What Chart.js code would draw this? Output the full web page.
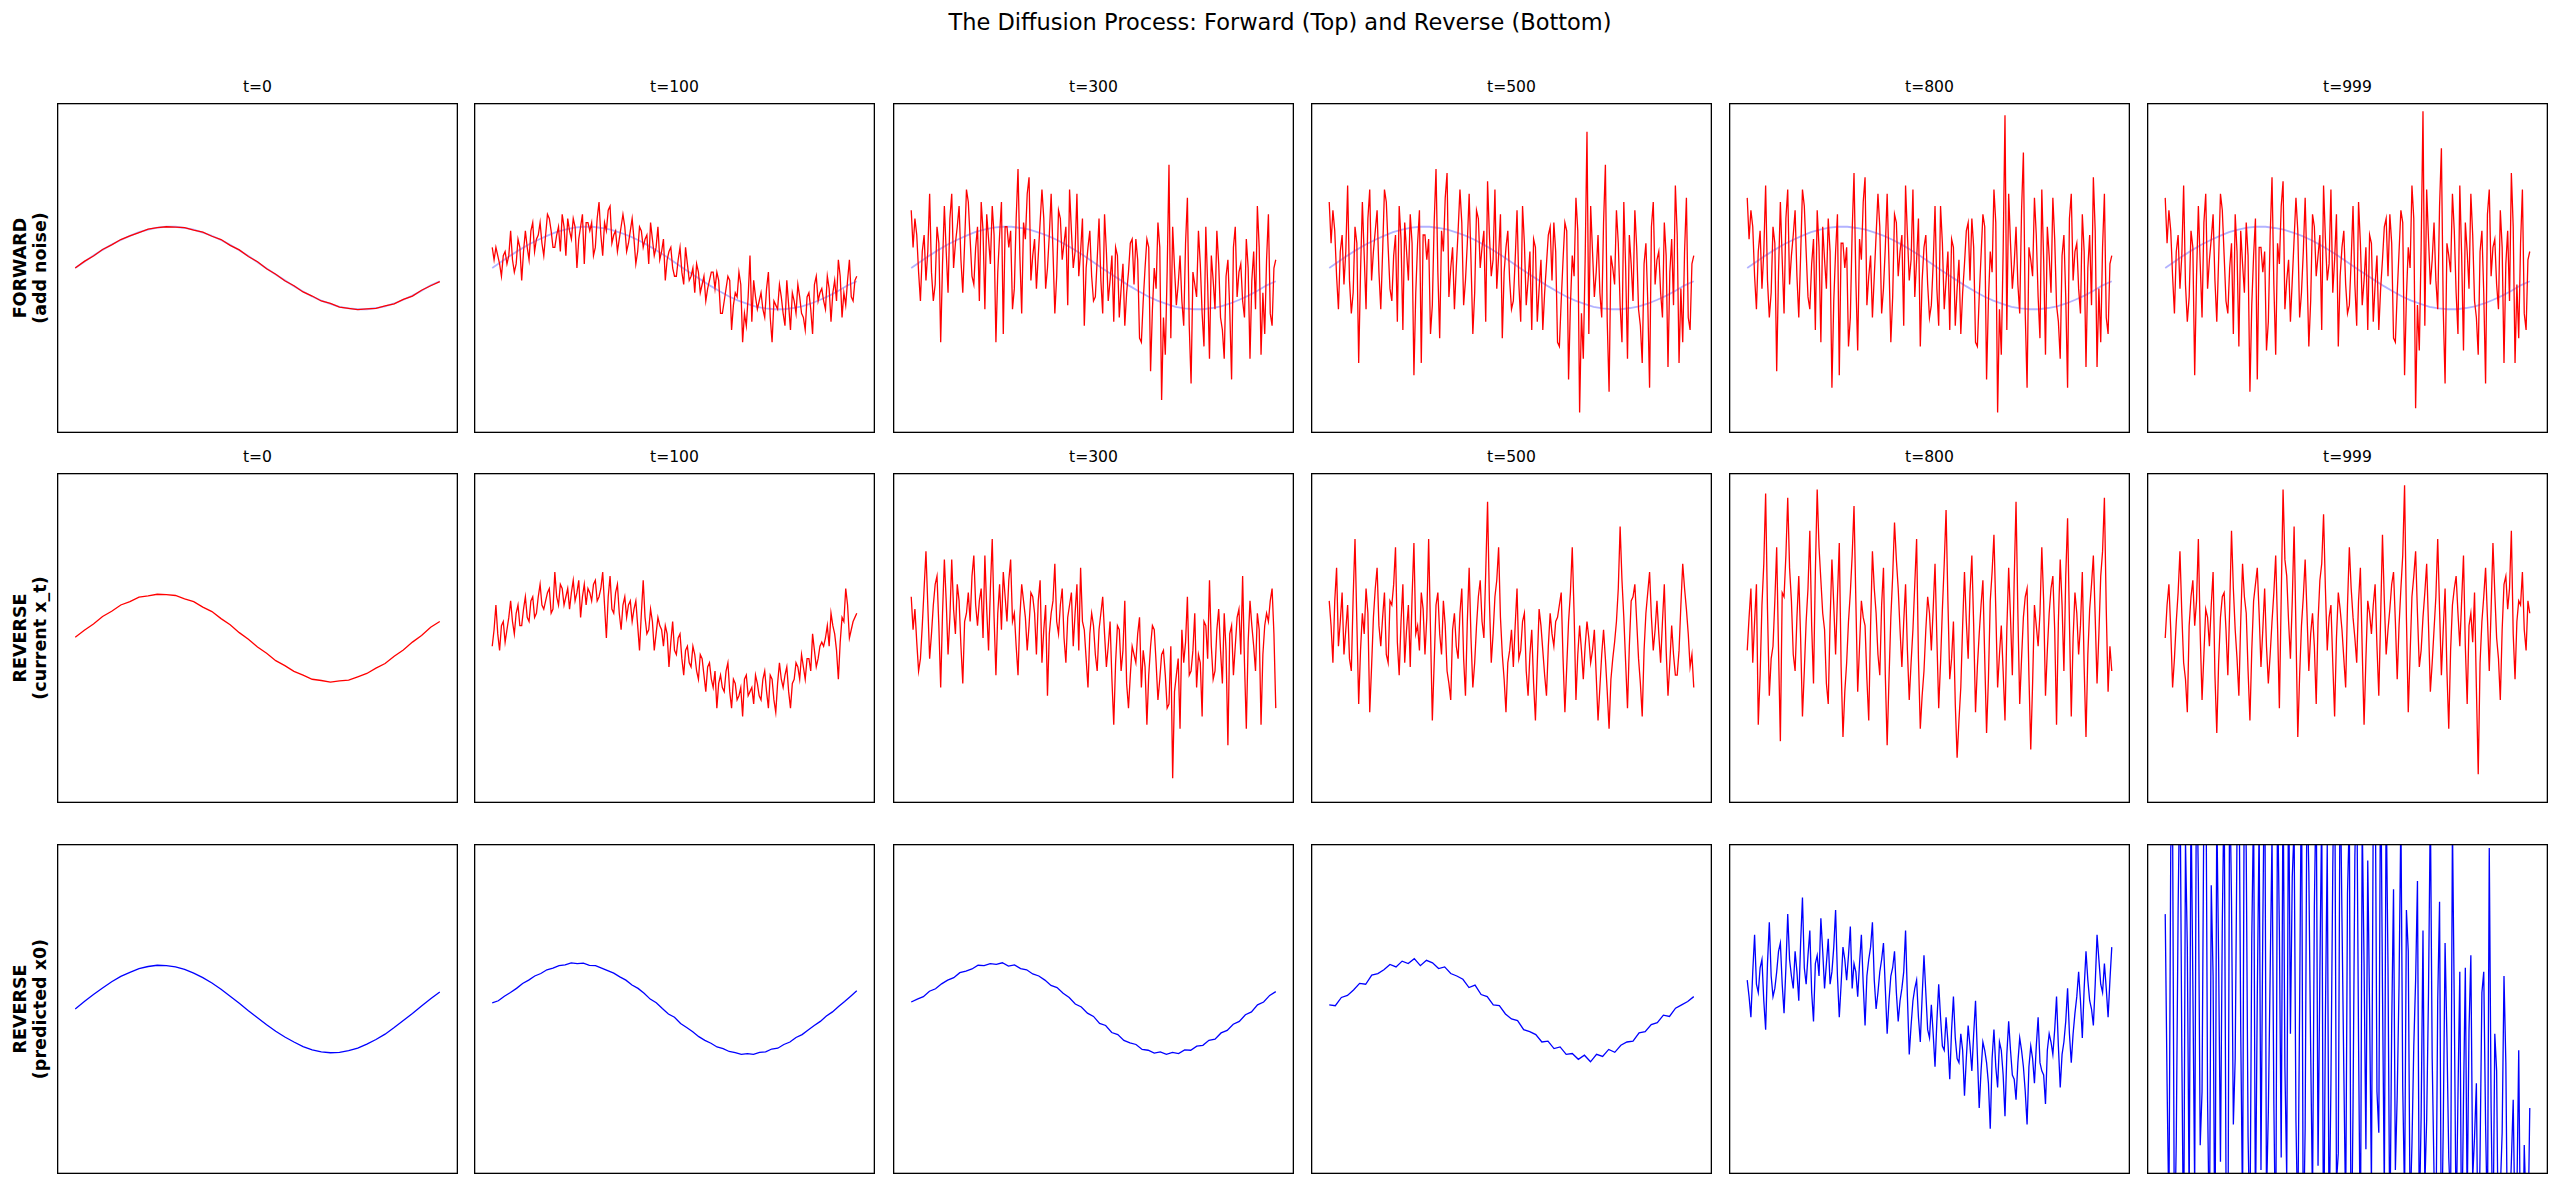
<!DOCTYPE html>
<html lang="en">
<head>
  <meta charset="UTF-8">
  <title>The Diffusion Process</title>
  <script src="https://cdn.jsdelivr.net/npm/chart.js"></script>
  <style>
    body {
        margin: 0;
        background: #fff;
        font-family: 'DejaVu Sans', sans-serif;
        color: #000;
    }
    #fig {
        position: relative;
        width: 2560px;
        height: 1186px;
        overflow: hidden;
    }
    .suptitle {
        position: absolute;
        left: 0;
        top: 8px;
        width: 2560px;
        text-align: center;
        font-size: 22.5px;
        line-height: 28px;
    }
    .ptitle {
        position: absolute;
        width: 401px;
        text-align: center;
        font-size: 15.6px;
        line-height: 20px;
    }
    .rowlabel {
        position: absolute;
        font-weight: bold;
        font-size: 17.5px;
        line-height: 20px;
        text-align: center;
        white-space: nowrap;
        transform: translate(-50%, -50%) rotate(-90deg);
    }
    canvas {
        position: absolute;
    }
  </style>
</head>
<body>
  <div id="fig">
    <div class="suptitle">The Diffusion Process: Forward (Top) and Reverse (Bottom)</div>
  </div>

  <script>
    const timesteps = ['t=0', 't=100', 't=300', 't=500', 't=800', 't=999'];
    const rowLabels = [['FORWARD', '(add noise)'], ['REVERSE', '(current x_t)'], ['REVERSE', '(predicted x0)']];

    // clean signal x0 (faint blue behind the forward row)
    const x0 = [0,0.15,0.30,0.44,0.57,0.68,0.78,0.87,0.93,0.98,1.0,1.0,0.97,0.93,0.86,0.78,0.68,0.56,0.43,0.29,0.14,-0.01,-0.16,-0.30,-0.44,-0.57,-0.69,-0.79,-0.87,-0.94,-0.98,-1.0,-1.0,-0.97,-0.93,-0.86,-0.77,-0.67,-0.55,-0.42,-0.32];

    // forward row (x_t)
    const fwd0 = [0,0.16,0.29,0.45,0.56,0.69,0.78,0.86,0.94,0.98,1.0,0.99,0.98,0.92,0.87,0.77,0.69,0.55,0.44,0.28,0.15,-0.02,-0.15,-0.31,-0.43,-0.58,-0.68,-0.80,-0.86,-0.95,-0.98,-1.01,-0.99,-0.98,-0.92,-0.87,-0.76,-0.68,-0.54,-0.43,-0.33];
    const fwd100 = [0.5,0.2,0.5,0.3,0.1,-0.2,0.3,0.4,0.1,0.3,0.9,0.2,-0.1,0.1,0.7,0.5,-0.3,0.4,0.9,0.5,
      0.2,0.9,1.1,0.4,0.7,0.8,1.1,0.6,0.3,0.8,1.3,1.2,0.9,0.5,0.5,0.8,1.0,0.4,1.3,1.0,
      0.3,1.2,0.9,0.7,1.2,1.0,0.0,0.7,1.0,1.3,0.1,1.1,1.1,0.9,1.1,0.3,0.5,1.2,1.6,0.8,
      0.3,1.1,0.9,1.4,1.5,0.6,0.8,0.9,0.4,0.7,1.0,1.3,1.0,0.4,0.6,0.9,1.2,0.7,0.1,0.4,
      1.0,0.9,0.5,0.7,0.8,0.1,1.1,0.7,0.3,0.5,1.0,0.2,0.4,0.7,-0.3,0.2,0.4,0.5,0.0,-0.2,
      -0.2,0.2,0.5,-0.1,-0.4,0.5,0.1,-0.3,-0.2,0.0,-0.6,0.1,-0.1,-0.6,-0.4,-0.2,-0.8,-0.5,-0.3,-0.1,
      -0.1,-0.5,-0.1,-0.3,-1.1,-1.1,-0.8,-0.5,-0.2,-0.3,-1.5,-0.9,-0.6,-0.7,-0.1,-0.4,-1.8,-1.1,-1.4,-0.7,
      0.3,-1.3,-0.3,-0.7,-1.0,-0.8,-0.6,-1.0,-1.2,-0.5,-0.1,-1.2,-1.8,-0.8,-0.9,-1.0,-0.4,-0.7,-1.1,-1.4,
      -0.3,-0.9,-1.5,-0.6,-0.8,-1.1,-0.4,-0.7,-1.1,-1.2,-1.5,-0.7,-0.6,-1.0,-1.6,-0.4,-0.2,-0.8,-0.6,-0.5,
      -0.8,-1.0,-0.2,-0.5,-1.3,-0.6,-0.3,-0.8,0.2,-0.2,-1.2,-0.6,-0.9,-0.3,0.2,-0.7,-0.8,-0.3,-0.2];
    const fwd300 = [1.4,0.5,1.2,0.8,-0.1,-0.8,0.4,0.8,-0.3,0.4,1.8,-0.1,-0.8,-0.4,1.0,0.6,-1.8,0.1,1.5,0.4,
      -0.6,1.2,1.8,0.0,0.6,1.0,1.5,0.2,-0.6,0.6,1.9,1.6,0.7,-0.2,-0.4,0.5,1.0,-0.8,1.6,0.9,
      -1.0,1.3,0.7,0.1,1.5,0.8,-1.8,-0.1,0.8,1.6,-1.6,1.0,1.0,0.5,0.9,-1.0,-0.5,1.2,2.4,0.3,
      -1.1,1.1,0.7,1.8,2.2,-0.3,0.3,0.7,-0.5,0.3,1.1,1.9,1.2,-0.5,0.0,0.8,1.8,0.4,-1.1,-0.2,
      1.4,1.2,0.2,0.6,1.0,-0.9,1.9,0.9,0.0,0.4,1.8,-0.2,0.4,1.2,-1.4,0.0,0.5,0.9,-0.2,-0.8,
      -0.7,0.2,1.2,-0.3,-1.1,1.3,0.4,-0.8,-0.3,0.3,-1.3,0.5,0.3,-1.2,-0.5,0.1,-1.4,-0.6,-0.1,0.6,
      0.7,-0.4,0.7,0.2,-1.7,-1.8,-0.8,0.0,0.7,0.5,-2.5,-1.0,0.0,-0.5,1.1,0.5,-3.2,-1.2,-2.1,-0.1,
      2.5,-1.7,1.0,0.0,-0.9,-0.4,0.3,-0.8,-1.4,0.6,1.7,-1.4,-2.8,-0.1,-0.4,-0.7,0.9,0.1,-1.1,-1.9,
      1.0,-0.4,-2.2,0.3,-0.3,-1.0,0.9,0.1,-1.2,-1.5,-2.2,-0.2,0.2,-1.0,-2.7,0.5,1.0,-0.7,-0.1,0.1,
      -0.8,-1.2,0.7,0.0,-2.2,-0.3,0.4,-1.0,1.5,0.5,-2.1,-0.6,-1.6,0.2,1.3,-1.1,-1.4,0.0,0.2];
    const fwd500 = [1.6,0.6,1.4,0.9,-0.2,-1.0,0.4,0.8,-0.4,0.4,2.0,-0.3,-1.1,-0.6,1.0,0.6,-2.3,-0.1,1.6,0.3,
      -1.0,1.2,1.9,-0.3,0.4,0.9,1.4,-0.1,-1.0,0.4,1.9,1.6,0.5,-0.5,-0.8,0.3,0.8,-1.3,1.5,0.7,
      -1.5,1.1,0.4,-0.3,1.3,0.6,-2.6,-0.6,0.6,1.4,-2.3,0.8,0.8,0.2,0.7,-1.6,-0.9,1.1,2.4,-0.1,
      -1.7,0.9,0.4,1.7,2.3,-0.7,0.0,0.5,-1.0,0.0,0.9,1.9,1.1,-0.9,-0.3,0.6,1.8,0.2,-1.6,-0.6,
      1.4,1.2,0.0,0.5,0.9,-1.3,2.1,0.8,-0.2,0.2,1.9,-0.5,0.3,1.3,-1.7,-0.1,0.5,0.9,-0.3,-1.0,
      -0.8,0.2,1.4,-0.4,-1.3,1.5,0.6,-0.9,-0.3,0.4,-1.5,0.7,0.5,-1.3,-0.5,0.2,-1.5,-0.6,0.1,0.8,
      1.0,-0.3,1.1,0.4,-1.8,-1.9,-0.8,0.2,1.1,0.9,-2.7,-0.9,0.3,-0.2,1.7,0.9,-3.5,-1.1,-2.2,0.2,
      3.3,-1.6,1.5,0.4,-0.7,-0.1,0.8,-0.6,-1.2,1.1,2.5,-1.3,-3.0,0.3,0.0,-0.4,1.4,0.6,-0.9,-1.8,
      1.6,0.0,-2.2,0.8,0.1,-0.8,1.4,0.5,-1.0,-1.4,-2.3,0.1,0.6,-0.8,-2.9,1.0,1.6,-0.4,0.2,0.4,
      -0.6,-1.2,1.1,0.3,-2.4,-0.1,0.7,-0.9,2.0,0.8,-2.3,-0.5,-1.8,0.4,1.7,-1.2,-1.5,0.1,0.3];
    const fwd800 = [1.7,0.7,1.4,1.0,-0.2,-1.0,0.4,0.9,-0.5,0.4,2.0,-0.3,-1.2,-0.6,1.0,0.6,-2.5,-0.1,1.6,0.2,
      -1.1,1.2,1.9,-0.4,0.3,0.8,1.4,-0.2,-1.2,0.3,1.9,1.5,0.4,-0.7,-1.0,0.1,0.7,-1.5,1.4,0.5,
      -1.8,1.0,0.2,-0.5,1.2,0.4,-2.9,-0.8,0.4,1.3,-2.6,0.6,0.6,0.0,0.5,-1.9,-1.2,0.9,2.3,-0.3,
      -2.0,0.7,0.2,1.6,2.2,-0.9,-0.2,0.3,-1.2,-0.2,0.8,1.8,1.0,-1.1,-0.5,0.5,1.8,0.1,-1.8,-0.7,
      1.3,1.1,-0.2,0.4,0.8,-1.4,2.0,0.8,-0.3,0.2,1.9,-0.7,0.2,1.2,-1.9,-0.3,0.5,0.8,-0.4,-1.2,
      -0.9,0.1,1.5,-0.5,-1.4,1.5,0.6,-1.0,-0.3,0.4,-1.5,0.7,0.5,-1.4,-0.5,0.2,-1.6,-0.6,0.1,0.9,
      1.1,-0.3,1.2,0.5,-1.8,-1.9,-0.7,0.3,1.3,1.0,-2.7,-0.8,0.4,-0.1,1.9,1.1,-3.5,-1.0,-2.1,0.4,
      3.7,-1.5,1.8,0.6,-0.5,0.1,1.0,-0.4,-1.1,1.4,2.8,-1.1,-2.9,0.5,0.2,-0.2,1.7,0.8,-0.7,-1.7,
      1.9,0.2,-2.1,1.0,0.3,-0.6,1.7,0.7,-0.9,-1.3,-2.2,0.3,0.8,-0.7,-2.9,1.2,1.8,-0.3,0.4,0.6,
      -0.5,-1.1,1.3,0.4,-2.4,0.0,0.8,-0.9,2.2,0.9,-2.4,-0.5,-1.8,0.5,1.8,-1.2,-1.6,0.1,0.3];
    const fwd999 = [1.7,0.6,1.4,0.9,-0.2,-1.1,0.4,0.8,-0.5,0.3,2.0,-0.4,-1.3,-0.7,0.9,0.5,-2.6,-0.2,1.5,0.1,
      -1.2,1.1,1.8,-0.5,0.2,0.7,1.3,-0.3,-1.3,0.2,1.8,1.4,0.3,-0.8,-1.1,0.0,0.6,-1.6,1.3,0.4,
      -1.9,0.9,0.1,-0.6,1.1,0.3,-3.0,-0.9,0.3,1.2,-2.7,0.5,0.5,-0.1,0.4,-2.0,-1.3,0.8,2.2,-0.4,
      -2.1,0.6,0.1,1.5,2.1,-1.0,-0.3,0.2,-1.3,-0.3,0.7,1.7,0.9,-1.2,-0.6,0.4,1.7,0.0,-1.9,-0.8,
      1.3,1.0,-0.2,0.3,0.8,-1.5,2.0,0.7,-0.3,0.1,1.9,-0.6,0.2,1.3,-1.9,-0.2,0.5,0.9,-0.4,-1.1,
      -0.9,0.2,1.5,-0.4,-1.4,1.6,0.6,-0.9,-0.3,0.5,-1.5,0.8,0.6,-1.3,-0.4,0.3,-1.5,-0.5,0.2,1.0,
      1.2,-0.2,1.3,0.6,-1.7,-1.8,-0.6,0.4,1.4,1.1,-2.6,-0.7,0.5,0.0,2.0,1.2,-3.4,-0.9,-2.0,0.5,
      3.8,-1.4,1.9,0.7,-0.4,0.2,1.1,-0.3,-1.0,1.5,2.9,-1.0,-2.8,0.6,0.3,-0.1,1.8,0.9,-0.6,-1.6,
      2.0,0.3,-2.0,1.1,0.4,-0.5,1.8,0.8,-0.8,-1.2,-2.1,0.4,0.9,-0.6,-2.8,1.3,1.9,-0.2,0.5,0.7,
      -0.4,-1.0,1.4,0.5,-2.3,0.1,0.9,-0.8,2.3,1.0,-2.3,-0.4,-1.7,0.6,1.9,-1.1,-1.5,0.2,0.4];

    // reverse row (current x_t)
    const rev0 = [0.02,0.19,0.34,0.52,0.65,0.80,0.88,0.99,1.02,1.06,1.05,1.03,0.95,0.88,0.75,0.64,0.47,0.32,0.13,-0.03,-0.22,-0.37,-0.55,-0.67,-0.81,-0.90,-1.00,-1.03,-1.07,-1.04,-1.02,-0.94,-0.86,-0.73,-0.62,-0.44,-0.29,-0.10,0.06,0.26,0.40];
    const rev100 = [-0.2,0.2,0.8,0.1,-0.3,0.3,0.4,-0.1,0.2,0.5,0.9,0.4,0.1,0.6,0.8,0.3,0.3,0.7,1.0,0.5,
      0.4,0.9,1.0,0.5,0.6,1.0,1.3,0.8,0.7,0.9,1.1,1.2,0.6,0.7,1.6,1.0,0.8,1.3,1.2,0.8,
      1.0,1.2,0.7,1.1,1.4,0.9,1.1,1.4,0.5,1.0,1.3,0.8,1.2,1.1,0.9,1.3,1.4,0.9,1.0,1.2,
      1.6,0.8,0.0,1.0,1.5,0.7,0.6,1.1,1.3,0.6,0.2,0.8,1.0,0.5,0.8,0.9,0.4,0.7,0.9,0.3,
      -0.3,0.6,1.4,0.5,0.1,0.2,0.7,0.4,-0.3,0.1,0.5,0.3,0.2,-0.2,0.3,0.1,-0.7,-0.1,0.4,-0.3,
      -0.4,0.0,0.1,-0.5,-0.9,-0.3,-0.2,-0.6,-0.7,-0.2,-0.4,-0.8,-1.0,-0.4,-0.5,-0.9,-1.3,-0.7,-0.6,-1.0,
      -1.2,-0.8,-1.7,-1.1,-0.9,-1.2,-1.3,-0.8,-0.6,-1.3,-1.7,-1.0,-1.1,-1.5,-1.4,-1.2,-1.9,-1.0,-0.9,-1.4,
      -1.3,-1.2,-1.6,-0.9,-1.1,-1.4,-1.5,-1.0,-0.8,-1.3,-1.7,-0.9,-1.0,-1.5,-1.8,-1.1,-0.6,-1.0,-1.2,-0.9,
      -0.7,-1.3,-1.7,-1.1,-1.0,-0.6,-0.7,-1.0,-0.4,-0.7,-1.0,-0.5,-0.5,-0.8,0.1,-0.3,-0.7,-0.5,-0.2,-0.1,
      -0.2,0.0,0.3,-0.2,0.6,0.3,0.1,-0.3,-1.0,-0.1,0.5,0.4,1.2,0.8,0.0,0.2,0.4,0.5,0.6];
    const rev300 = [1.0,0.2,0.7,-0.1,-0.8,-0.5,0.3,1.2,2.1,0.8,-0.5,0.1,0.8,1.3,1.5,0.3,-1.2,0.6,1.9,0.9,
      -0.4,0.5,1.9,0.7,0.1,1.3,0.9,-0.2,-1.1,0.4,0.6,1.1,0.4,1.5,2.0,0.8,0.3,0.9,1.2,0.0,
      2.0,0.7,-0.3,1.2,2.4,0.5,-0.9,0.6,1.3,0.2,1.6,1.0,0.4,1.4,1.9,0.4,0.6,-0.2,-0.9,0.5,
      1.3,0.9,0.5,-0.3,0.3,1.1,1.0,0.6,-0.4,0.9,1.4,-0.6,0.2,0.8,-1.4,0.1,0.6,0.9,1.8,0.4,
      0.1,0.8,1.2,0.0,-0.6,0.5,0.8,1.1,-0.2,0.6,1.3,-0.3,1.7,0.4,0.2,-0.5,-1.2,0.1,0.6,0.3,
      -0.4,-0.8,0.2,0.6,1.0,0.1,-0.7,-0.2,0.4,-1.0,-2.1,-0.6,0.3,0.2,-0.8,-0.3,0.9,-1.1,-1.7,-0.9,
      -0.2,-0.4,-0.6,0.1,0.5,-1.2,-0.3,-0.7,-2.1,-0.9,-0.2,0.3,0.2,-0.6,-1.5,-1.0,-0.4,-0.3,-0.9,-1.7,
      -1.6,-0.2,-3.4,-1.3,-0.9,-0.5,-2.2,0.2,-0.6,-0.1,1.0,-0.9,-0.8,-0.3,0.6,-1.2,-0.4,-0.6,-1.9,0.4,
      0.3,-0.5,1.4,-0.2,-1.0,-0.8,0.2,0.7,-0.3,-1.1,0.6,-0.3,-2.6,0.1,0.3,-0.9,-0.2,0.5,0.7,-0.4,
      1.5,-0.6,-2.2,-0.1,0.9,0.3,-0.2,-0.8,0.6,0.2,-2.1,-0.4,0.3,0.6,0.4,0.9,1.2,0.1,-1.7];
    const rev500 = [0.9,0.3,-0.6,0.9,1.7,-0.2,0.4,1.1,-0.4,0.2,0.8,-0.5,-0.8,1.0,2.4,0.4,-1.6,-0.3,0.6,0.1,
      1.2,0.6,-1.8,-0.7,0.5,1.2,1.7,0.3,-0.2,0.5,1.1,-0.4,-0.6,0.9,0.8,1.3,2.2,-0.1,-0.9,0.4,
      1.3,-0.6,0.2,0.8,-0.7,1.0,2.3,0.1,0.3,-0.3,1.1,0.7,-0.4,0.5,2.4,0.2,-2.0,-0.6,0.8,1.1,
      0.1,-0.4,0.9,0.3,-0.8,-1.1,-1.5,0.2,0.6,-0.2,-0.5,0.6,1.2,-0.5,-1.4,0.4,1.7,0.0,-1.2,-0.6,
      0.3,1.0,1.4,0.4,0.0,1.6,3.3,0.9,-0.6,0.1,1.0,1.4,2.2,0.5,-0.4,-1.0,-1.8,-0.6,-0.3,0.2,
      -0.7,0.3,1.2,-0.5,-0.3,0.4,0.6,-0.8,-1.4,-0.4,0.2,-1.1,-2.0,-0.6,0.7,0.3,-0.3,-0.9,-1.4,-0.2,
      0.6,0.1,-0.2,0.4,0.5,0.8,1.1,-0.5,-1.8,-0.7,0.4,1.1,2.2,0.6,-1.5,-0.4,0.3,-0.3,-1.0,-0.2,
      0.4,0.0,-0.6,-0.3,0.2,-0.9,-2.0,-1.2,-0.4,0.2,-0.5,-1.3,-2.2,-1.0,-0.5,-0.1,0.4,1.2,2.7,1.4,
      0.5,-0.6,-1.7,-0.2,0.9,1.0,1.3,0.4,-0.5,-1.1,-1.9,-0.3,0.6,1.1,1.6,0.5,-0.3,0.2,0.9,0.1,
      -0.6,0.4,1.3,-0.3,-1.4,-0.6,0.3,-0.4,-0.9,-0.9,-0.3,0.8,1.8,1.2,0.7,0.1,-0.7,-0.4,-1.2];
    const rev800 = [-0.3,0.5,1.2,-0.6,0.4,1.3,-2.1,-0.9,0.8,1.8,3.5,0.7,-1.4,-0.5,-0.2,0.9,2.2,-0.3,-2.5,1.1,
      1.0,2.0,3.4,1.7,0.9,-0.4,-0.8,0.5,1.5,0.0,-1.9,-0.8,0.4,1.2,2.6,0.3,-1.1,1.6,3.6,2.2,
      1.4,0.6,0.2,-1.1,-1.6,0.4,1.9,0.8,-0.4,1.0,2.3,-0.7,-2.4,-1.3,-0.6,0.4,1.1,2.0,3.2,0.9,
      -1.3,-0.2,0.9,0.5,0.3,-1.0,-2.0,0.3,2.1,1.2,0.6,-0.4,-0.9,0.8,1.7,-0.9,-2.6,-1.0,0.5,1.5,
      2.8,1.9,1.2,0.2,-0.7,0.4,1.3,-0.3,-1.5,-0.6,0.2,1.3,2.4,-0.5,-2.2,-1.4,-0.8,0.2,1.0,0.6,
      -0.3,0.7,1.8,0.0,-1.7,-0.6,0.7,1.8,3.1,0.9,-1.0,-0.5,0.4,-1.6,-2.9,-2.0,-1.2,0.3,1.6,0.4,
      -0.5,1.1,2.0,0.3,-1.8,-0.7,0.1,0.8,1.4,-0.5,-2.3,-1.0,0.9,1.6,2.5,0.7,-1.2,-0.4,0.3,-0.8,
      -2.0,0.2,1.7,0.5,-0.9,1.4,3.3,0.6,-1.6,-0.5,0.5,1.0,1.2,-0.9,-2.7,-1.1,0.8,0.3,-0.2,0.6,
      2.2,0.9,-1.4,-0.3,0.6,1.2,1.5,0.2,-2.1,0.4,1.9,0.8,-0.8,1.5,2.9,0.4,-1.9,0.0,1.1,0.6,
      -0.4,0.3,1.6,-0.7,-2.4,-0.4,0.7,1.3,2.0,0.5,-1.1,0.1,1.5,2.1,3.4,0.7,-1.3,-0.2,-0.8];
    const rev999 = [0.0,0.8,1.3,0.2,-1.2,-0.5,0.4,1.1,2.1,0.6,-0.6,-1.0,-1.8,0.3,1.0,1.4,0.3,0.9,2.4,0.1,
      -1.5,-0.4,0.7,0.5,-0.2,0.8,1.6,-0.9,-2.3,-0.6,0.5,1.0,1.1,0.2,-0.9,0.7,2.6,1.2,0.2,-0.5,
      -1.4,0.4,1.8,1.0,0.6,-0.8,-2.0,-0.3,0.9,1.3,1.7,0.6,-0.7,0.2,1.2,-0.2,-1.1,-0.4,0.4,1.1,
      2.0,0.3,-1.7,1.0,3.6,1.9,1.5,0.4,-0.5,0.9,2.7,0.2,-2.4,-0.9,0.3,1.0,1.9,0.6,-0.8,0.1,
      0.6,-0.2,-1.6,0.4,1.4,1.8,3.0,1.2,-0.3,0.5,0.8,-0.6,-1.9,0.0,1.1,0.7,0.2,-0.5,-1.2,0.8,
      2.2,1.2,0.5,0.0,-0.6,0.9,1.7,-0.3,-2.1,-0.5,0.9,0.6,0.1,0.8,1.3,-0.2,-1.4,0.5,2.5,0.9,
      -0.4,0.2,0.7,1.3,1.6,0.4,-1.0,0.3,1.2,2.0,3.7,0.5,-1.8,-0.4,1.0,1.5,2.1,0.6,-0.7,-0.3,
      0.5,1.1,1.8,0.3,-1.3,-0.6,0.2,1.0,2.4,0.7,-0.9,0.2,1.2,-0.8,-2.2,-0.3,0.8,1.2,1.5,0.6,
      -0.2,0.9,2.0,-0.2,-1.6,0.3,0.6,-0.1,1.1,-1.2,-3.3,-0.6,0.4,1.0,1.7,0.5,-0.8,0.7,2.3,1.1,
      0.0,-0.5,-1.5,0.2,1.3,1.5,0.7,1.2,2.6,0.1,-1.0,0.4,0.9,0.8,1.6,0.2,-0.3,0.9,0.6];

    // reverse row (predicted x0)
    const pred0 = [0,0.18,0.35,0.51,0.66,0.79,0.89,0.98,1.03,1.06,1.05,1.02,0.96,0.87,0.76,0.63,0.48,0.31,0.14,-0.04,-0.21,-0.38,-0.54,-0.68,-0.80,-0.91,-0.99,-1.04,-1.06,-1.05,-1.01,-0.95,-0.85,-0.74,-0.61,-0.45,-0.28,-0.11,0.07,0.25,0.41];
    const pred100 = [0.15,0.20,0.31,0.40,0.50,0.62,0.70,0.80,0.86,0.95,0.99,1.05,1.07,1.12,1.10,1.11,1.06,1.05,0.99,0.93,0.87,0.78,0.70,0.58,0.50,0.38,0.24,0.15,0.01,-0.12,-0.20,-0.35,-0.45,-0.55,-0.67,-0.76,-0.83,-0.92,-0.96,-1.03,-1.06,-1.10,-1.08,-1.10,-1.05,-1.04,-0.97,-0.95,-0.86,-0.80,-0.69,-0.62,-0.51,-0.40,-0.30,-0.17,-0.07,0.06,0.18,0.31,0.44];
    const pred300 = [0.17,0.24,0.30,0.43,0.49,0.61,0.70,0.76,0.88,0.92,0.97,1.06,1.05,1.10,1.08,1.12,1.04,1.07,0.98,0.95,0.85,0.80,0.70,0.57,0.52,0.38,0.28,0.12,0.05,-0.10,-0.18,-0.35,-0.40,-0.57,-0.62,-0.76,-0.82,-0.86,-0.98,-1.00,-1.07,-1.04,-1.10,-1.05,-1.08,-0.99,-1.00,-0.90,-0.88,-0.76,-0.73,-0.58,-0.52,-0.37,-0.30,-0.14,-0.07,0.10,0.17,0.33,0.42];
    const pred500 = [0.10,0.08,0.28,0.33,0.46,0.62,0.60,0.82,0.86,0.95,1.08,1.02,1.16,1.10,1.22,1.05,1.18,1.12,0.98,1.02,0.86,0.80,0.72,0.52,0.58,0.35,0.30,0.10,0.08,-0.12,-0.24,-0.28,-0.50,-0.55,-0.62,-0.80,-0.78,-0.96,-0.92,-1.10,-1.08,-1.22,-1.12,-1.28,-1.10,-1.15,-0.98,-1.05,-0.88,-0.80,-0.78,-0.58,-0.55,-0.38,-0.33,-0.15,-0.18,0.02,0.10,0.18,0.30];
    const pred800 = [0.7,0.3,-0.2,0.9,1.8,0.6,0.4,1.0,1.2,0.2,-0.5,1.1,2.1,0.8,0.3,0.5,0.9,1.4,1.6,0.6,
      -0.1,1.0,2.3,1.2,0.8,0.5,1.4,0.9,0.2,1.6,2.7,1.0,0.6,1.3,1.9,0.4,-0.3,1.1,1.3,0.8,
      2.2,1.4,0.5,1.1,1.7,0.6,0.9,1.5,2.4,0.8,-0.2,0.6,1.5,1.2,0.7,1.3,2.0,0.5,1.1,0.9,
      0.3,1.1,1.8,0.6,-0.4,0.8,1.2,1.5,2.1,0.7,0.0,0.4,0.9,1.2,1.6,0.5,-0.6,0.2,0.8,1.0,
      1.4,0.4,-0.3,0.2,0.5,0.9,1.9,0.3,-1.1,-0.4,0.2,0.5,0.7,-0.2,-0.8,0.3,1.3,0.4,-0.5,-0.7,
      0.1,-0.6,-1.4,-0.3,0.6,-0.2,-0.9,-1.0,-0.2,-0.8,-1.7,-0.5,0.3,-0.7,-1.2,-1.3,-0.6,-1.0,-2.1,-1.2,
      -0.4,-0.9,-1.5,-0.6,0.2,-1.1,-2.4,-1.5,-0.8,-1.0,-1.3,-1.8,-2.9,-1.2,-0.5,-1.4,-1.9,-0.8,-1.0,-1.6,
      -2.6,-1.1,-0.3,-1.0,-1.6,-1.7,-2.2,-1.3,-0.7,-1.0,-1.4,-2.0,-2.8,-1.4,-0.9,-1.2,-1.8,-0.9,-0.2,-1.3,
      -1.5,-1.6,-2.3,-1.0,-0.6,-0.8,-1.1,-0.5,0.3,-0.9,-1.9,-1.1,-0.8,-0.3,0.5,-0.6,-1.3,-0.6,-0.1,0.3,
      0.9,0.2,-0.7,0.5,1.4,0.7,0.2,0.0,-0.4,0.6,1.8,1.2,0.6,0.4,1.1,0.5,-0.2,0.7,1.5];
    const pred999 = [2.3,-1.8,-5.1,3.9,4.6,-6.0,-3.2,2.4,6.0,-0.9,-6.3,4.1,1.5,-4.8,5.2,0.6,-4.4,6.5,3.1,-3.3,
      -2.0,5.1,7.1,-2.2,-5.8,3.0,0.8,-6.4,4.9,1.2,-3.7,2.1,5.5,-4.0,-6.8,5.9,2.6,-2.8,-1.2,4.3,
      6.4,-0.5,-4.9,6.6,3.8,-3.1,-5.6,1.7,5.0,-5.2,0.3,4.5,-3.9,2.0,6.7,-4.6,-2.5,0.9,4.2,-2.3,
      -6.1,5.4,1.9,-3.6,5.8,-1.4,-4.1,6.0,-0.6,3.2,4.4,-2.7,-5.3,0.1,6.2,-5.9,-2.9,5.7,3.3,-1.0,
      -4.7,2.5,5.6,-3.8,0.9,4.9,-6.5,-0.2,4.0,-5.5,-1.8,3.4,6.9,-4.2,-3.5,6.1,2.2,-1.5,-5.0,2.8,
      4.7,-6.7,-2.4,3.7,5.9,-0.8,-6.0,4.6,1.1,-3.4,3.6,0.0,-4.3,5.0,6.3,-2.0,-3.0,6.4,0.5,-4.5,
      5.3,1.0,-5.7,-0.4,2.9,-3.9,-2.1,0.6,4.8,-1.9,-4.6,2.4,1.4,-5.0,-3.3,-0.9,0.7,3.1,-5.2,-2.6,
      1.9,-4.3,-2.7,0.4,5.0,-1.2,-4.0,-5.7,0.2,2.6,-6.1,-2.9,1.6,-0.7,-3.6,-4.8,4.5,0.1,-5.4,-2.1,
      0.9,-6.0,-2.2,1.0,-4.8,-0.5,1.3,-4.1,-3.1,-1.8,-6.6,-3.5,0.4,0.9,-2.8,-5.3,3.9,-2.4,-5.9,-0.6,
      -1.5,-6.4,-4.4,-3.0,0.8,-1.3,-6.2,-5.1,-3.7,-2.2,-5.5,-4.5,-1.0,-6.0,-6.8,-3.3,-4.9,-5.6,-2.4];

    const forwardRow = [fwd0, fwd100, fwd300, fwd500, fwd800, fwd999];
    const currentRow = [rev0, rev100, rev300, rev500, rev800, rev999];
    const predRow = [pred0, pred100, pred300, pred500, pred800, pred999];

    // figure geometry (px)
    const colLeft = [57, 474, 893, 1311, 1729, 2147];
    const rowTop = [103, 473, 844];
    const panelW = 401, panelH = 330;

    const fig = document.getElementById('fig');

    // black box round each axes
    const frame = {
      id: 'frame',
      afterDraw(chart) {
        const { ctx, chartArea: a } = chart;
        ctx.save();
        ctx.strokeStyle = '#000';
        ctx.lineWidth = 1.3;
        ctx.strokeRect(a.left + 0.65, a.top + 0.65, a.right - a.left - 1.3, a.bottom - a.top - 1.3);
        ctx.restore();
      }
    };

    function toPoints(arr) {
      return arr.map((v, i) => ({ x: i / (arr.length - 1), y: v }));
    }

    function line(arr, color, width, order) {
      return {
        data: toPoints(arr),
        borderColor: color,
        borderWidth: width,
        pointRadius: 0,
        tension: 0,
        fill: false,
        order: order
      };
    }

    function makePanel(r, c, datasets) {
      const canvas = document.createElement('canvas');
      canvas.width = panelW;
      canvas.height = panelH;
      canvas.style.left = colLeft[c] + 'px';
      canvas.style.top = rowTop[r] + 'px';
      fig.appendChild(canvas);
      new Chart(canvas.getContext('2d'), {
        type: 'line',
        data: { datasets: datasets },
        options: {
          responsive: false,
          animation: false,
          events: [],
          layout: { padding: 0 },
          plugins: { legend: { display: false }, tooltip: { enabled: false } },
          scales: {
            x: { type: 'linear', display: false, min: -0.05, max: 1.05 },
            y: { display: false, min: -4, max: 4 }
          }
        },
        plugins: [frame]
      });
    }

    for (let c = 0; c < 6; c++) {
      // lower order is drawn on top: red over the faint blue x0
      makePanel(0, c, [line(forwardRow[c], '#ff0000', 1.3, 0), line(x0, 'rgba(0, 0, 255, 0.3)', 1.8, 1)]);
      makePanel(1, c, [line(currentRow[c], '#ff0000', 1.3, 0)]);
      makePanel(2, c, [line(predRow[c], '#0000ff', 1.3, 0)]);
    }

    // panel titles (first two rows only)
    [0, 1].forEach(r => {
      timesteps.forEach((t, c) => {
        const d = document.createElement('div');
        d.className = 'ptitle';
        d.textContent = t;
        d.style.left = colLeft[c] + 'px';
        d.style.top = (rowTop[r] - 26) + 'px';
        fig.appendChild(d);
      });
    });

    // row labels
    rowLabels.forEach((lbl, r) => {
      const d = document.createElement('div');
      d.className = 'rowlabel';
      d.innerHTML = lbl[0] + '<br>' + lbl[1];
      d.style.left = '30px';
      d.style.top = (rowTop[r] + panelH / 2) + 'px';
      fig.appendChild(d);
    });
  </script>
</body>
</html>
